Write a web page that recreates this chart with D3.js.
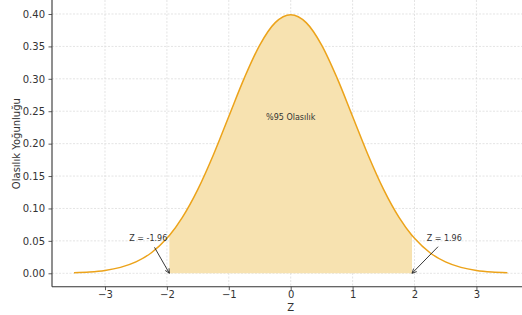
<!DOCTYPE html>
<html>
<head>
<meta charset="utf-8">
<script src="https://cdn.jsdelivr.net/npm/d3@7"></script>
<style>
html,body{margin:0;padding:0;background:#fff;}
svg{display:block;font-family:"DejaVu Sans",sans-serif;}
</style>
</head>
<body>
<svg id="chart" width="522" height="315"></svg>
<script>
// Data
const zValues = [-3.5,-3.25,-3.0,-2.75,-2.5,-2.25,-2.0,-1.96,-1.75,-1.5,-1.25,-1.0,-0.75,-0.5,-0.25,0,0.25,0.5,0.75,1.0,1.25,1.5,1.75,1.96,2.0,2.25,2.5,2.75,3.0,3.25,3.5];
const density = [0.0009,0.0020,0.0044,0.0091,0.0175,0.0317,0.0540,0.0584,0.0863,0.1295,0.1826,0.2420,0.3011,0.3521,0.3867,0.3989,0.3867,0.3521,0.3011,0.2420,0.1826,0.1295,0.0863,0.0584,0.0540,0.0317,0.0175,0.0091,0.0044,0.0020,0.0009];
const xTicks = [-3,-2,-1,0,1,2,3];
const yTicks = [0,0.05,0.10,0.15,0.20,0.25,0.30,0.35,0.40];
const lowerBound = -1.96, upperBound = 1.96;
const annotations = [
  {label:"Z = -1.96", tx:-2.30, ty:0.0505, ax:-2.20, ay:0.040, px:-1.96, py:0},
  {label:"Z = 1.96",  tx:2.48, ty:0.0505, ax:2.38, ay:0.041, px:1.96, py:0}
];
const centerLabel = {label:"%95 Olasılık", x:0, y:0.2365};
const xLabel = "Z", yLabel = "Olasılık Yoğunluğu";

const svg = d3.select("#chart");
const x = d3.scaleLinear().domain([-3.856, 3.856]).range([52, 529.4]);
const y = d3.scaleLinear().domain([-0.0207, 0.4216]).range([286.7, 0]);
const pts = zValues.map((z,i)=>({z, d:density[i]}));

// grid
const grid = svg.append("g").attr("stroke","#d9d9d9").attr("stroke-width",0.7).attr("stroke-dasharray","2,1.5");
grid.selectAll("line.v").data(xTicks).join("line").attr("class","v")
  .attr("x1",d=>x(d)).attr("x2",d=>x(d)).attr("y1",0).attr("y2",286.7);
grid.selectAll("line.h").data(yTicks).join("line").attr("class","h")
  .attr("x1",52).attr("x2",522).attr("y1",d=>y(d)).attr("y2",d=>y(d));

// shaded area
const inside = pts.filter(p=>p.z>=lowerBound && p.z<=upperBound);
svg.append("path").datum(inside)
  .attr("d", d3.area().x(p=>x(p.z)).y0(y(0)).y1(p=>y(p.d)).curve(d3.curveMonotoneX))
  .attr("fill","#f7e2b0");

// curve
svg.append("path").datum(pts)
  .attr("d", d3.line().x(p=>x(p.z)).y(p=>y(p.d)).curve(d3.curveMonotoneX))
  .attr("fill","none").attr("stroke","#eca31a").attr("stroke-width",1.5);

// axes
const fmtX = d => d<0 ? "\u2212"+Math.abs(d) : String(d);
const xAxis = svg.append("g").attr("transform","translate(0,286.7)")
  .call(d3.axisBottom(x).tickValues(xTicks).tickFormat(fmtX).tickSizeOuter(0).tickSize(3.5).tickPadding(2));
const yAxis = svg.append("g").attr("transform","translate(52,0)")
  .call(d3.axisLeft(y).tickValues(yTicks).tickFormat(d3.format(".2f")).tickSizeOuter(0).tickSize(3.5).tickPadding(3.5));
[xAxis,yAxis].forEach(a=>{
  a.select(".domain").attr("stroke","#333").attr("stroke-width",1.1);
  a.selectAll(".tick line").attr("stroke","#333").attr("stroke-width",0.8);
  a.selectAll(".tick text").attr("fill","#333").attr("font-size",10).attr("font-family","DejaVu Sans");
});
xAxis.selectAll(".tick text").attr("dy","0.62em");
xAxis.select(".domain").attr("d","M52,0H522");
yAxis.select(".domain").attr("d","M0,0V0");
svg.append("line").attr("x1",52).attr("x2",52).attr("y1",0).attr("y2",286.7).attr("stroke","#333").attr("stroke-width",1.1);

// axis labels
svg.append("text").attr("x",x(0)).attr("y",310.5).attr("text-anchor","middle")
  .attr("font-size",10).attr("fill","#333").text(xLabel);
svg.append("text").attr("transform",`translate(20,${y(0.2)}) rotate(-90)`).attr("text-anchor","middle")
  .attr("font-size",10).attr("fill","#333").text(yLabel);

// center label
svg.append("text").attr("x",x(centerLabel.x)).attr("y",y(centerLabel.y)).attr("text-anchor","middle")
  .attr("font-size",8).attr("fill","#333").text(centerLabel.label);

// annotations
annotations.forEach((a,i)=>{
  svg.append("text").attr("x",x(a.tx)).attr("y",y(a.ty)).attr("text-anchor","middle")
    .attr("font-size",8).attr("fill","#333").text(a.label);
  const x1=x(a.ax), y1=y(a.ay), x2=x(a.px), y2=y(a.py);
  svg.append("line").attr("x1",x1).attr("y1",y1).attr("x2",x2).attr("y2",y2)
    .attr("stroke","#222").attr("stroke-width",0.9);
  const ang=Math.atan2(y2-y1,x2-x1), L=5, w=0.45;
  svg.append("path")
    .attr("d",`M${x2-L*Math.cos(ang-w)},${y2-L*Math.sin(ang-w)}L${x2},${y2}L${x2-L*Math.cos(ang+w)},${y2-L*Math.sin(ang+w)}`)
    .attr("fill","none").attr("stroke","#222").attr("stroke-width",0.9);
});
</script>
</body>
</html>
